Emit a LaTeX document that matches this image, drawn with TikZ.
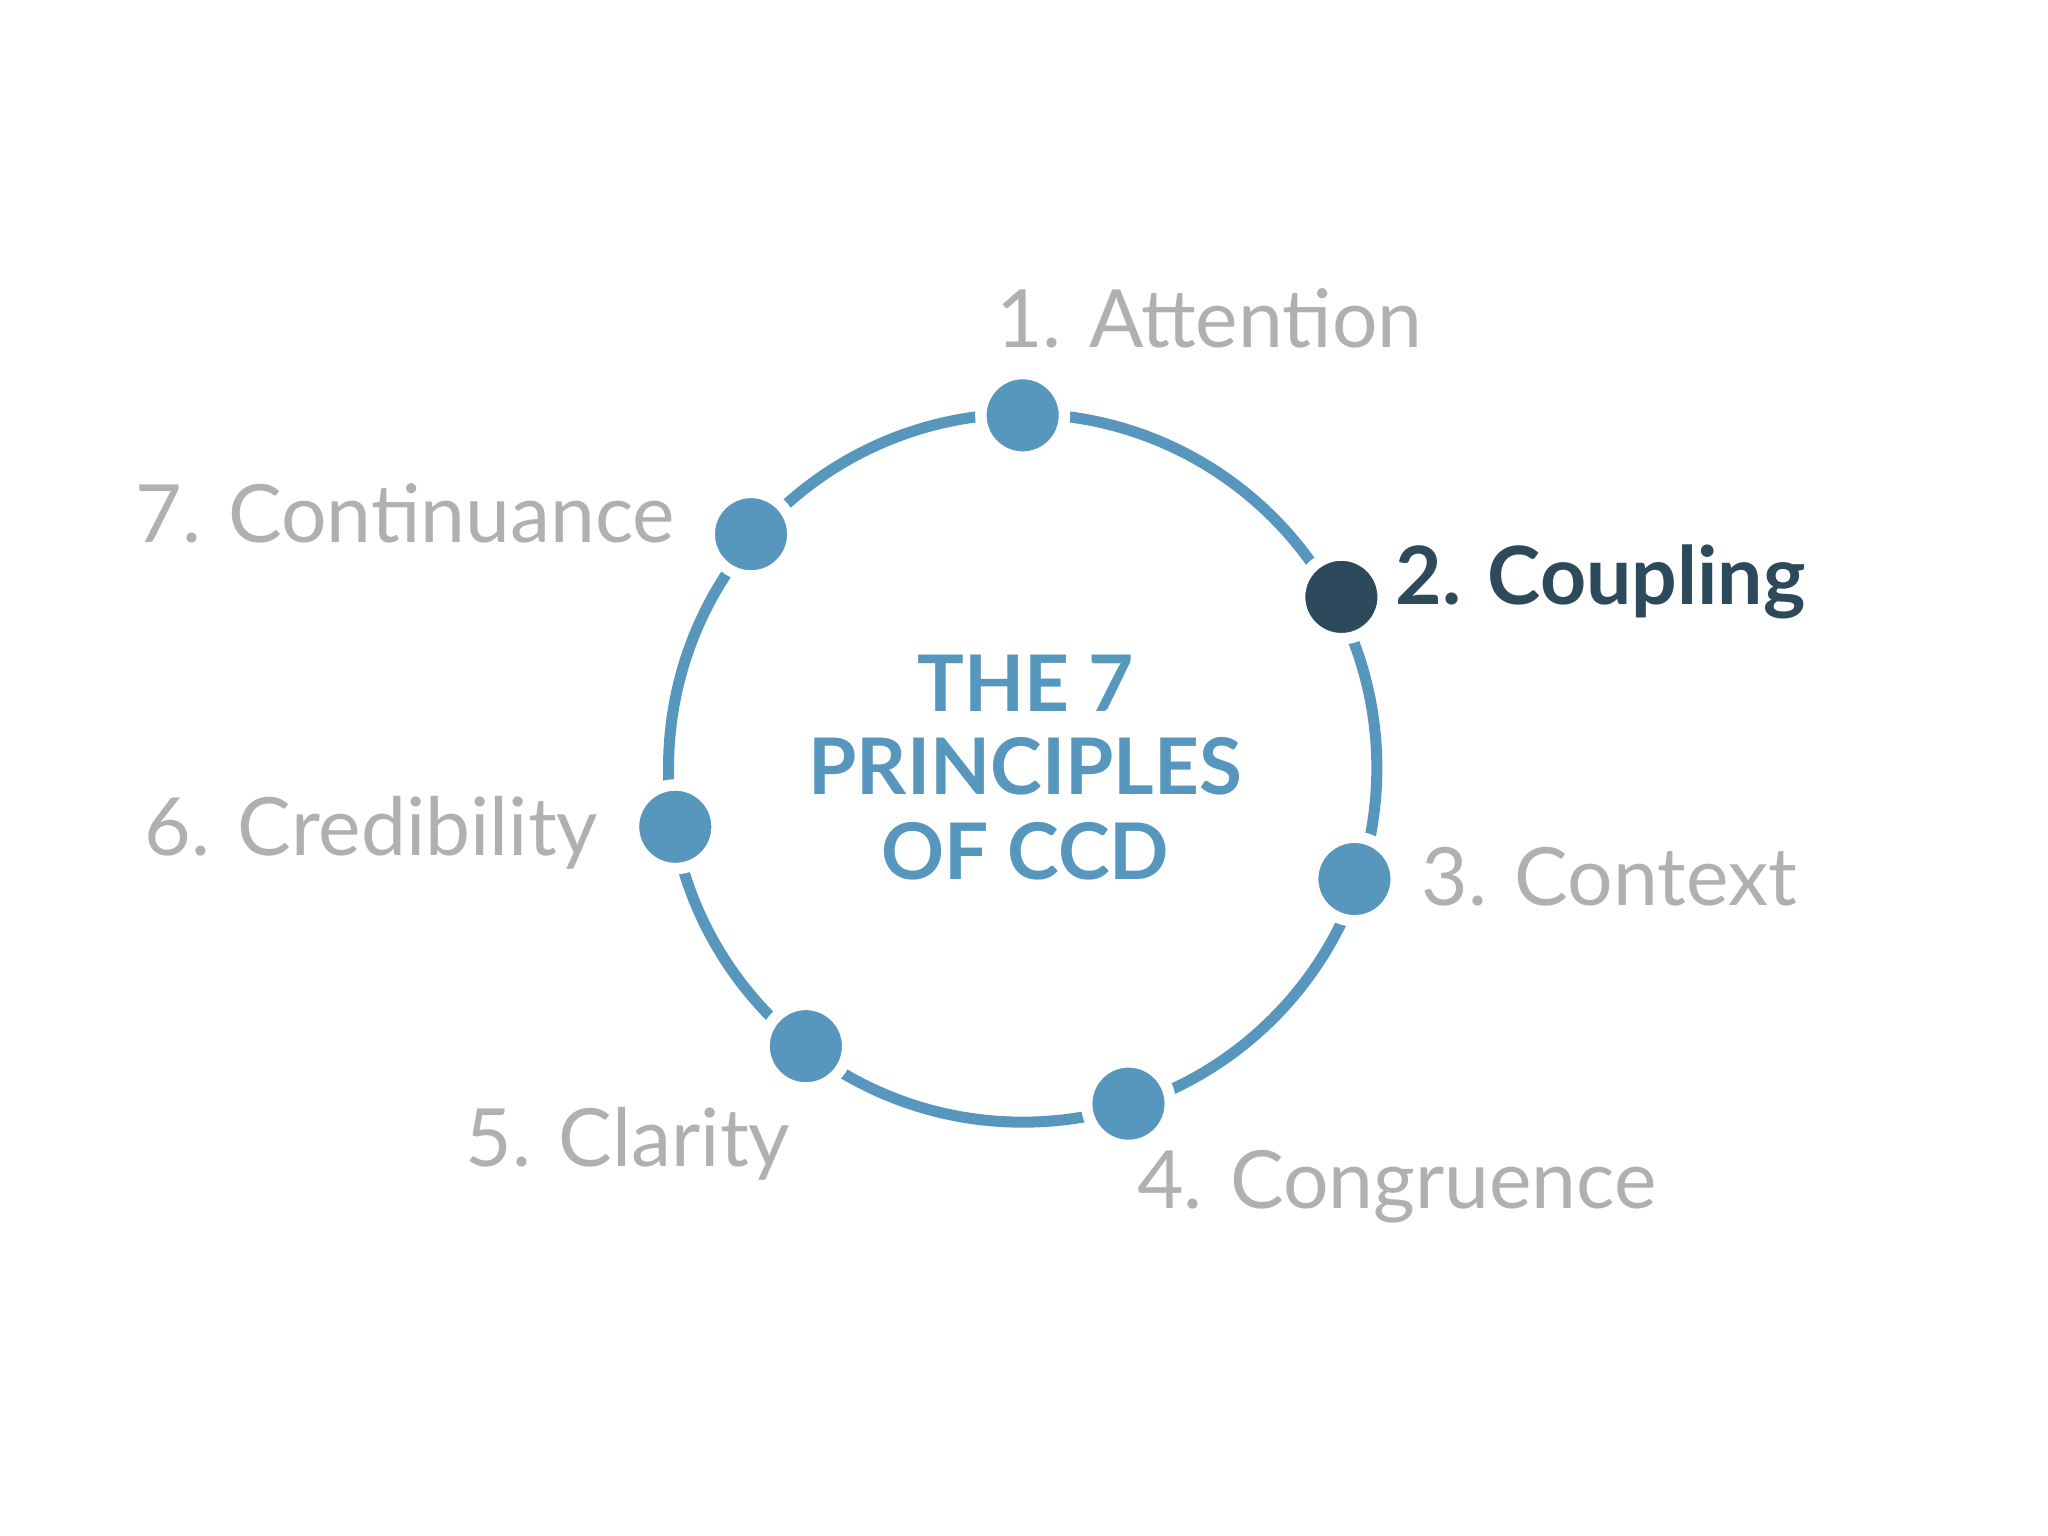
\documentclass[tikz,border=0pt]{standalone}
\usepackage{fontspec}
\setmainfont{Lato}
\definecolor{cblue}{HTML}{5796BD}
\definecolor{cdark}{HTML}{2C4A5B}
\definecolor{cgray}{HTML}{B0B0B0}
\begin{document}
\begin{tikzpicture}[x=0.01cm,y=-0.01cm,
  dotc/.style={circle,fill=cblue,draw=white,line width=2.5pt,minimum size=0.64cm,inner sep=0},
  lbl/.style={anchor=base west,text=cgray,font=\fontsize{17.5}{20}\selectfont,inner sep=0},
  ttl/.style={text=cblue,font=\fontsize{17}{20}\selectfont\bfseries,inner sep=0,anchor=base}]
\useasboundingbox (0,0) rectangle (1568,1176);
\fill[white] (0,0) rectangle (1568,1176);
\coordinate (c) at (783,588);
\draw[cblue,line width=2.4pt] (c) circle [radius=2.71cm];
\node[dotc] (d1) at (783,318) {};
\node[dotc] (d7) at (575,409) {};
\node[dotc,fill=cdark] (d2) at (1027,457) {};
\node[dotc] (d6) at (517,633) {};
\node[dotc] (d3) at (1037,673) {};
\node[dotc] (d5) at (617,801) {};
\node[dotc] (d4) at (864,845) {};
\node[lbl] (l1) at (762,266) {1. Attention};
\node[lbl,text=cdark,font=\fontsize{17.5}{20}\selectfont\bfseries] (l2) at (1068,463) {2. Coupling};
\node[lbl] (l3) at (1088,693) {3. Context};
\node[lbl] (l4) at (870,925) {4. Congruence};
\node[lbl] (l5) at (356,893) {5. Clarity};
\node[lbl] (l6) at (110,655) {6. Credibility};
\node[lbl] (l7) at (103,415) {7. Continuance};
\node[ttl] (t1) at (785,545) {THE 7};
\node[ttl] (t2) at (785,608) {PRINCIPLES};
\node[ttl] (t3) at (785,673) {OF CCD};
\end{tikzpicture}
\end{document}
